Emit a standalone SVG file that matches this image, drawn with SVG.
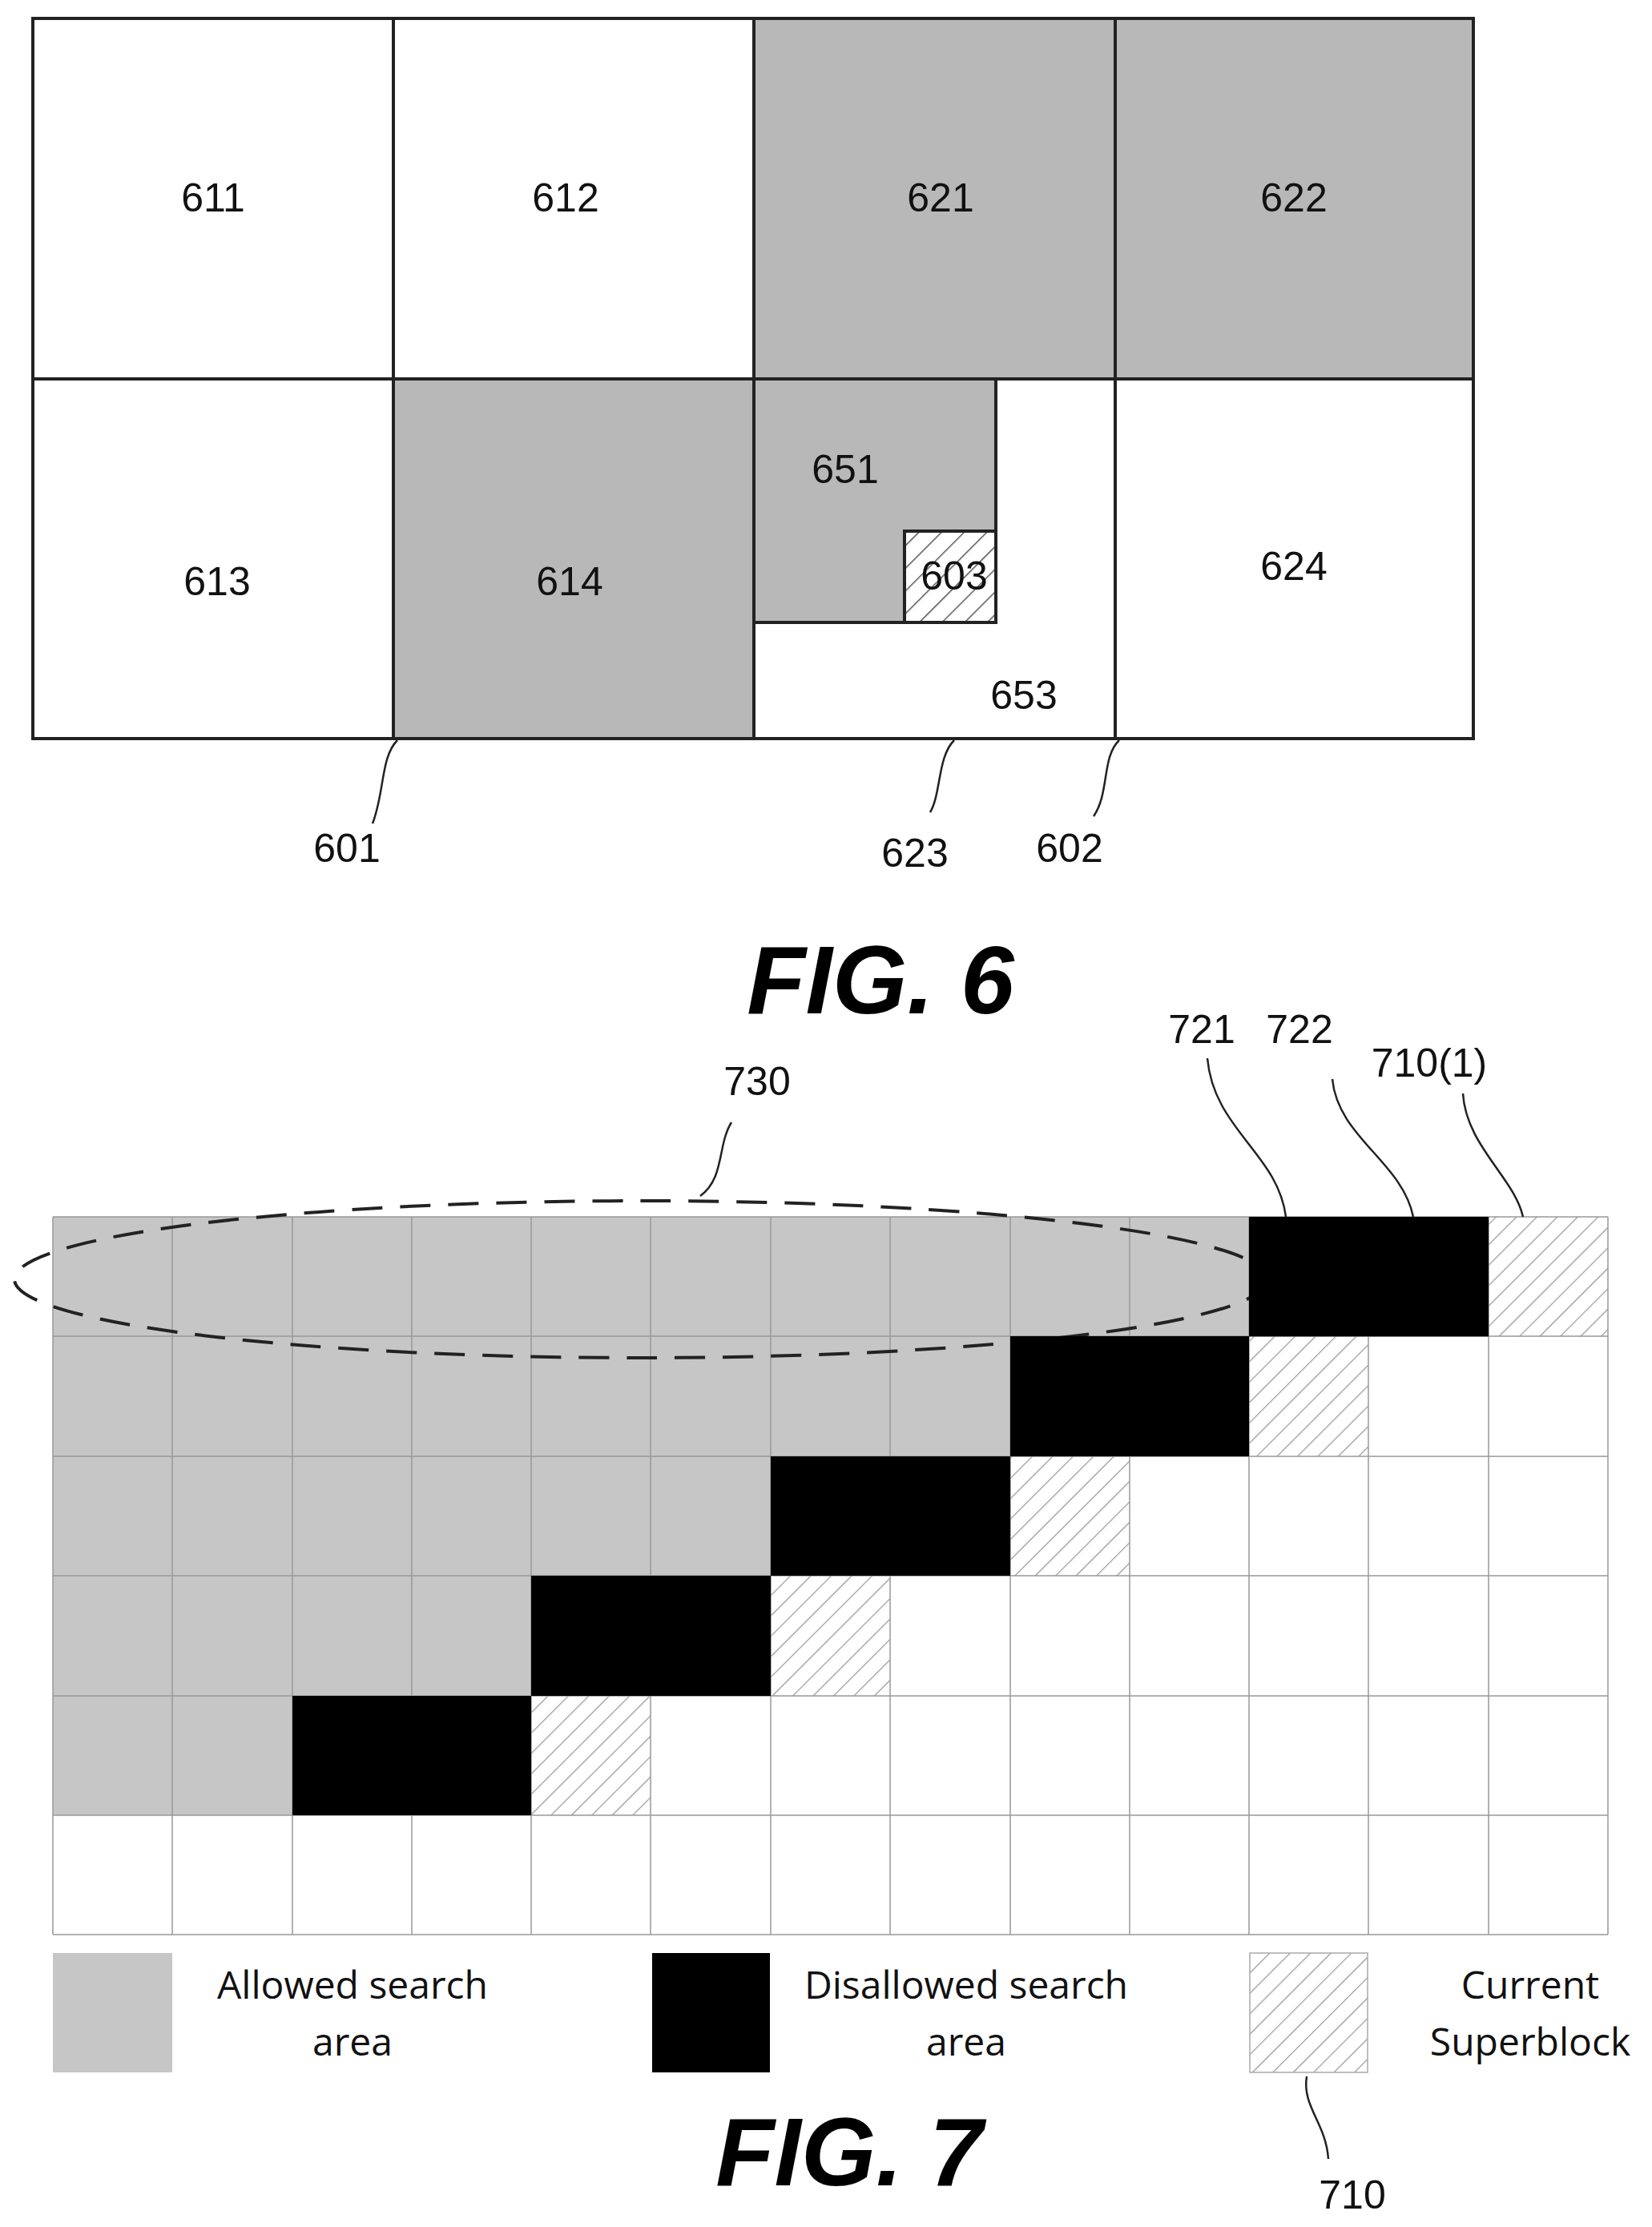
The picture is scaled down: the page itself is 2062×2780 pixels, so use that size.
<svg xmlns="http://www.w3.org/2000/svg" width="2062" height="2780" viewBox="0 0 2062 2780">
<defs>
<pattern id="hatch" patternUnits="userSpaceOnUse" width="18" height="18" patternTransform="rotate(45)">
<rect width="18" height="18" fill="#fff"/><line x1="0" y1="0" x2="0" y2="18" stroke="#999" stroke-width="2.5"/>
</pattern>
<pattern id="hatch6" patternUnits="userSpaceOnUse" width="20" height="20" patternTransform="rotate(45)">
<rect width="20" height="20" fill="#fff"/><line x1="0" y1="0" x2="0" y2="20" stroke="#555" stroke-width="3"/>
</pattern>
</defs>
<style>
.b6{stroke:#222;stroke-width:4}
.g6{fill:#b8b8b8}
.w{fill:#fff}
.n6{font-family:"Liberation Sans",Arial,sans-serif;font-size:50px;text-anchor:middle;fill:#111}
.lead{fill:none;stroke:#222;stroke-width:2.5}
.fig{font-family:"Liberation Sans",Arial,sans-serif;font-size:120px;font-weight:bold;font-style:italic;text-anchor:middle}
.c{stroke:#999;stroke-width:1.5}
.g7{fill:#c6c6c6}
.k{fill:#000}
.h{fill:url(#hatch)}
.lg{font-family:"Open Sans",sans-serif;font-size:48px;text-anchor:middle;fill:#111}
</style>
<rect width="2062" height="2780" fill="#fff"/>
<g id="fig6">
<g id="b611"><rect class="w b6" x="41" y="23" width="450" height="450"/><text class="n6" x="266" y="264">611</text></g>
<g id="b612"><rect class="w b6" x="491" y="23" width="450" height="450"/><text class="n6" x="706" y="264">612</text></g>
<g id="b621"><rect class="g6 b6" x="941" y="23" width="451" height="450"/><text class="n6" x="1174" y="264">621</text></g>
<g id="b622"><rect class="g6 b6" x="1392" y="23" width="447" height="450"/><text class="n6" x="1615" y="264">622</text></g>
<g id="b613"><rect class="w b6" x="41" y="473" width="450" height="449"/><text class="n6" x="271" y="743">613</text></g>
<g id="b614"><rect class="g6 b6" x="491" y="473" width="450" height="449"/><text class="n6" x="711" y="743">614</text></g>
<g id="b653"><rect class="w b6" x="941" y="473" width="451" height="449"/><text class="n6" x="1278" y="885">653</text></g>
<g id="b651"><rect class="g6 b6" x="941" y="473" width="302" height="304"/><text class="n6" x="1055" y="603">651</text></g>
<g id="b603"><rect class="b6" fill="url(#hatch6)" x="1129" y="663" width="114" height="114"/><text class="n6" x="1191" y="736">603</text></g>
<g id="b624"><rect class="w b6" x="1392" y="473" width="447" height="449"/><text class="n6" x="1615" y="724">624</text></g>
<text class="n6" x="433" y="1076">601</text>
<text class="n6" x="1142" y="1082">623</text>
<text class="n6" x="1335" y="1076">602</text>
<text class="fig" x="1099" y="1265">FIG. 6</text>
</g>
<g id="fig7">
<g id="grid">
<rect class="g7" x="66" y="1519" width="1493" height="149.3"/>
<rect class="h" x="1858" y="1519" width="149" height="149.3"/>
<rect class="g7" x="66" y="1668" width="1195" height="150"/>
<rect class="h" x="1559" y="1668" width="149" height="150"/>
<rect class="g7" x="66" y="1818" width="896" height="149"/>
<rect class="h" x="1261" y="1818" width="149" height="149"/>
<rect class="g7" x="66" y="1967" width="597" height="150"/>
<rect class="h" x="962" y="1967" width="149" height="150"/>
<rect class="g7" x="66" y="2117" width="299" height="149"/>
<rect class="h" x="663" y="2117" width="149" height="149"/>
<g class="c">
<line x1="66" y1="1519" x2="2007" y2="1519"/><line x1="66" y1="1668" x2="2007" y2="1668"/><line x1="66" y1="1818" x2="2007" y2="1818"/><line x1="66" y1="1967" x2="2007" y2="1967"/><line x1="66" y1="2117" x2="2007" y2="2117"/><line x1="66" y1="2266" x2="2007" y2="2266"/><line x1="66" y1="2415" x2="2007" y2="2415"/>
<line x1="66" y1="1519" x2="66" y2="2415"/><line x1="215" y1="1519" x2="215" y2="2415"/><line x1="365" y1="1519" x2="365" y2="2415"/><line x1="514" y1="1519" x2="514" y2="2415"/><line x1="663" y1="1519" x2="663" y2="2415"/><line x1="812" y1="1519" x2="812" y2="2415"/><line x1="962" y1="1519" x2="962" y2="2415"/><line x1="1111" y1="1519" x2="1111" y2="2415"/><line x1="1261" y1="1519" x2="1261" y2="2415"/><line x1="1410" y1="1519" x2="1410" y2="2415"/><line x1="1559" y1="1519" x2="1559" y2="2415"/><line x1="1708" y1="1519" x2="1708" y2="2415"/><line x1="1858" y1="1519" x2="1858" y2="2415"/><line x1="2007" y1="1519" x2="2007" y2="2415"/>
</g>
</g>
<ellipse id="e730" cx="800" cy="1597" rx="782" ry="98" fill="none" stroke="#222" stroke-width="4" stroke-dasharray="38 22"/>
<g id="disallowed">
<rect class="k" x="1559" y="1519" width="299" height="149.3"/>
<rect class="k" x="1261" y="1668" width="298" height="150"/>
<rect class="k" x="962" y="1818" width="299" height="149"/>
<rect class="k" x="663" y="1967" width="299" height="150"/>
<rect class="k" x="365" y="2117" width="298" height="149"/>
</g>
<g id="legend">
<rect class="g7" x="66" y="2438" width="149" height="149"/>
<text class="lg" x="440" y="2495">Allowed search</text><text class="lg" x="440" y="2566">area</text>
<rect class="k" x="814" y="2438" width="147" height="149"/>
<text class="lg" x="1206" y="2495">Disallowed search</text><text class="lg" x="1206" y="2566">area</text>
<rect class="h" x="1560" y="2438" width="147" height="149" stroke="#aaa" stroke-width="1.5"/>
<text class="lg" x="1910" y="2495">Current</text><text class="lg" x="1910" y="2566">Superblock</text>
</g>
<text class="n6" x="945" y="1367">730</text>
<text class="n6" x="1500" y="1302">721</text>
<text class="n6" x="1622" y="1302">722</text>
<text class="n6" x="1784" y="1344">710(1)</text>
<text class="n6" x="1688" y="2757">710</text>
<text class="fig" x="1060" y="2728">FIG. 7</text>
</g>
<g id="connectors">
<path class="lead" d="M496,924 C475,945 480,990 465,1028"/>
<path class="lead" d="M1191,924 C1170,945 1175,990 1161,1014"/>
<path class="lead" d="M1397,924 C1375,945 1385,990 1365,1019"/>
<path class="lead" d="M874,1493 C905,1470 895,1430 913,1401"/>
<path class="lead" d="M1605,1519 C1595,1440 1515,1410 1507,1321"/>
<path class="lead" d="M1764,1519 C1750,1450 1670,1420 1663,1347"/>
<path class="lead" d="M1901,1519 C1890,1470 1830,1430 1826,1365"/>
<path class="lead" d="M1631,2592 C1625,2630 1655,2650 1658,2695"/>
</g>
</svg>
